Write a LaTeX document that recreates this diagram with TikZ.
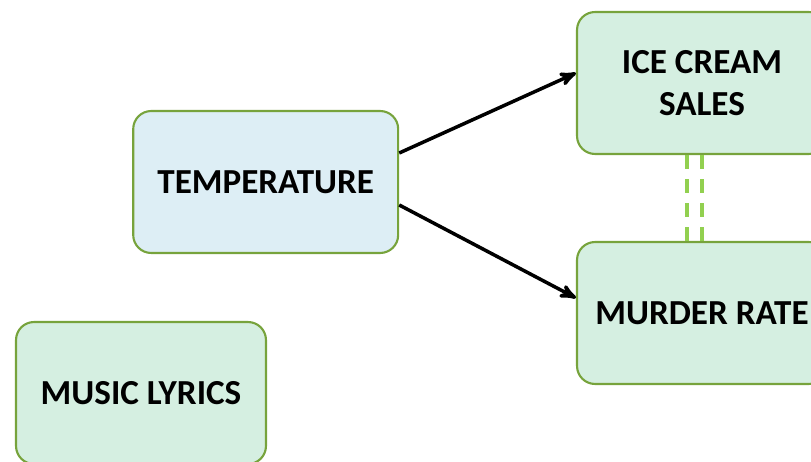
\documentclass[tikz,border=0pt]{standalone}
\usepackage{fontspec}
\setmainfont{Carlito}
\usetikzlibrary{arrows}
\definecolor{boxline}{HTML}{77A33C}
\definecolor{greenfill}{HTML}{D5EFE1}
\definecolor{bluefill}{HTML}{DDEEF5}
\definecolor{dashgreen}{HTML}{92D050}

\begin{document}
\begin{tikzpicture}[x=0.02cm,y=-0.02cm,->,>=stealth',line width=2pt,
main node/.style={rectangle,rounded corners=0.36cm,draw=boxline,line width=1.2pt,fill=greenfill,minimum width=5cm,minimum height=2.84cm,align=center,font=\fontsize{20}{23.5}\selectfont\bfseries}]
\useasboundingbox (0,0) rectangle (811,462);
\node[main node,fill=bluefill,minimum width=5.3cm] (temp) at (265.7,182) {TEMPERATURE};
\node[main node] (ice) at (702,83) {ICE CREAM\\SALES};
\node[main node] (murder) at (702,313) {MURDER RATE};
\node[main node] (music) at (141,393) {MUSIC LYRICS};
\path
([yshift=0.58cm]temp.east) edge ([yshift=0.2cm]ice.west);
\path
([yshift=-0.46cm]temp.east) edge ([yshift=0.3cm]murder.west);
%correlation only
\draw[-,dashgreen,line width=2.2pt,dash pattern=on 0.28cm off 0.2cm] ([xshift=-0.3cm]ice.south) -- ([xshift=-0.3cm]murder.north);
\draw[-,dashgreen,line width=2.2pt,dash pattern=on 0.28cm off 0.2cm] ([xshift=0cm]ice.south) -- ([xshift=0cm]murder.north);
\end{tikzpicture}
\end{document}
